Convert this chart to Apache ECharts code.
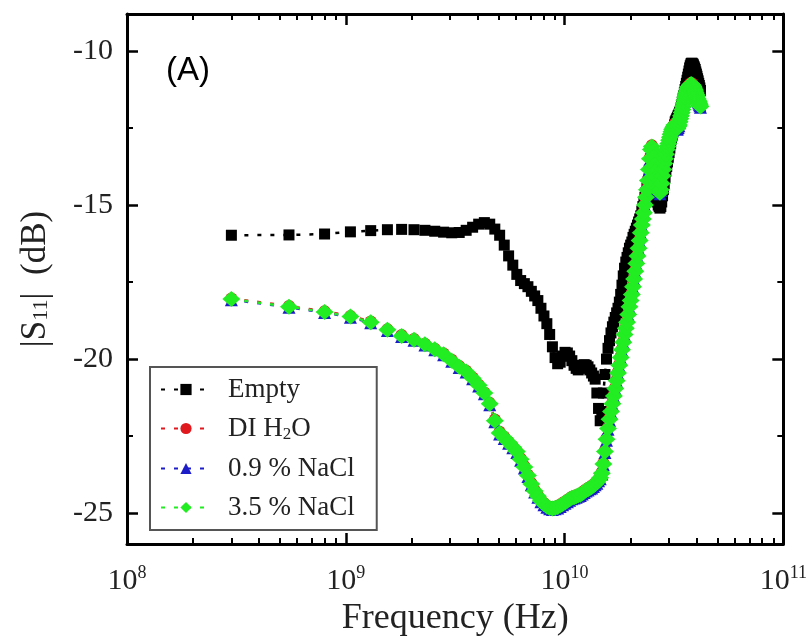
<!DOCTYPE html>
<html>
<head>
<meta charset="utf-8">
<script src="https://cdn.jsdelivr.net/npm/echarts@6/dist/echarts.min.js"></script>
<style>html,body{margin:0;padding:0;background:#fff}#main{width:810px;height:642px}</style>
</head>
<body>
<div id="main"></div>
<script>
// Frequency sweep points (GHz)
const freqGHz = [
0.3,0.55,0.8,1.05,1.3,1.55,1.8,2.05,2.3,2.55,
2.8,3.05,3.3,3.55,3.8,4.05,4.3,4.55,4.8,5.05,
5.3,5.55,5.8,6.05,6.3,6.55,6.8,7.05,7.3,7.55,
7.8,8.05,8.3,8.55,8.8,9.05,9.3,9.55,9.8,10.05,
10.3,10.55,10.8,11.05,11.3,11.55,11.8,12.05,12.3,12.55,
12.8,13.05,13.3,13.55,13.8,14.05,14.3,14.55,14.8,15.05,
15.3,15.55,15.8,16.05,16.3,16.55,16.8,17.05,17.3,17.55,
17.8,18.05,18.3,18.55,18.8,19.05,19.3,19.55,19.8,20.05,
20.3,20.55,20.8,21.05,21.3,21.55,21.8,22.05,22.3,22.55,
22.8,23.05,23.3,23.55,23.8,24.05,24.3,24.55,24.8,25.05,
25.3,25.55,25.8,26.05,26.3,26.55,26.8,27.05,27.3,27.55,
27.8,28.05,28.3,28.55,28.8,29.05,29.3,29.55,29.8,30.05,
30.3,30.55,30.8,31.05,31.3,31.55,31.8,32.05,32.3,32.55,
32.8,33.05,33.3,33.55,33.8,34.05,34.3,34.55,34.8,35.05,
35.3,35.55,35.8,36.05,36.3,36.55,36.8,37.05,37.3,37.55,
37.8,38.05,38.3,38.55,38.8,39.05,39.3,39.55,39.8,40.05,
40.3,40.55,40.8,41.05,41.3,41.55,41.8
];

// |S11| (dB) — Empty
const emptyDB = [
-15.98,-15.97,-15.94,-15.87,-15.83,-15.80,-15.79,-15.80,-15.82,-15.85,
-15.88,-15.90,-15.89,-15.82,-15.72,-15.62,-15.57,-15.62,-15.78,-15.98,
-16.30,-16.65,-16.95,-17.25,-17.45,-17.55,-17.65,-17.80,-17.95,-18.10,
-18.35,-18.60,-18.85,-19.20,-19.60,-19.95,-20.15,-20.10,-19.90,-19.78,
-19.80,-19.90,-20.05,-20.20,-20.30,-20.35,-20.30,-20.22,-20.18,-20.20,
-20.25,-20.35,-20.45,-20.55,-20.65,-21.10,-21.60,-22.00,-21.70,-21.10,
-20.50,-20.00,-19.65,-19.40,-19.15,-18.95,-18.80,-18.65,-18.50,-18.35,
-18.15,-17.90,-17.60,-17.30,-17.05,-16.85,-16.70,-16.55,-16.40,-16.30,
-16.20,-16.05,-15.95,-15.85,-15.75,-15.65,-15.55,-15.45,-15.35,-15.20,
-15.05,-14.90,-14.75,-14.60,-14.45,-14.30,-14.15,-13.95,-13.80,-13.85,
-14.00,-14.20,-14.40,-14.60,-14.75,-14.90,-15.00,-15.05,-15.10,-15.05,
-14.90,-14.70,-14.50,-14.30,-14.10,-13.90,-13.75,-13.60,-13.45,-13.30,
-13.15,-13.00,-12.85,-12.75,-12.60,-12.50,-12.40,-12.30,-12.25,-12.20,
-12.15,-12.10,-12.05,-12.00,-11.95,-11.85,-11.75,-11.65,-11.55,-11.45,
-11.35,-11.25,-11.15,-11.05,-10.95,-10.85,-10.75,-10.65,-10.55,-10.48,
-10.42,-10.40,-10.40,-10.42,-10.45,-10.50,-10.55,-10.60,-10.68,-10.75,
-10.82,-10.90,-10.97,-11.05,-11.12,-11.20,-11.28
];

// |S11| (dB) — DI H2O
const diH2oDB = [
-18.03,-18.28,-18.45,-18.60,-18.78,-19.03,-19.22,-19.35,-19.50,-19.66,
-19.82,-20.02,-20.22,-20.38,-20.60,-20.83,-21.08,-21.42,-21.96,-22.36,
-22.52,-22.68,-22.83,-22.98,-23.22,-23.47,-23.75,-24.02,-24.25,-24.42,
-24.57,-24.67,-24.75,-24.80,-24.82,-24.80,-24.77,-24.72,-24.67,-24.62,
-24.57,-24.52,-24.47,-24.45,-24.42,-24.39,-24.37,-24.32,-24.27,-24.22,
-24.19,-24.15,-24.12,-24.07,-24.02,-23.97,-23.89,-23.82,-23.66,-23.36,
-22.96,-22.56,-22.21,-21.91,-21.66,-21.41,-21.16,-20.91,-20.66,-20.41,
-20.16,-19.91,-19.66,-19.41,-19.16,-18.96,-18.76,-18.51,-18.26,-18.06,
-17.86,-17.61,-17.36,-17.11,-16.86,-16.61,-16.36,-16.11,-15.86,-15.61,
-15.41,-15.21,-14.96,-14.71,-14.46,-14.16,-13.81,-13.46,-13.16,-13.06,
-13.21,-13.41,-13.66,-13.86,-14.06,-14.26,-14.41,-14.51,-14.56,-14.46,
-14.26,-14.01,-13.81,-13.61,-13.46,-13.31,-13.16,-13.06,-12.96,-12.86,
-12.76,-12.66,-12.58,-12.51,-12.46,-12.41,-12.36,-12.36,-12.41,-12.46,
-12.46,-12.41,-12.36,-12.26,-12.16,-12.06,-11.96,-11.86,-11.76,-11.66,
-11.56,-11.46,-11.38,-11.31,-11.24,-11.18,-11.14,-11.11,-11.08,-11.06,
-11.04,-11.04,-11.06,-11.08,-11.11,-11.16,-11.21,-11.26,-11.32,-11.38,
-11.44,-11.51,-11.56,-11.61,-11.66,-11.71,-11.76
];

// |S11| (dB) — 0.9 % NaCl
const nacl09DB = [
-18.07,-18.32,-18.49,-18.64,-18.82,-19.07,-19.27,-19.39,-19.54,-19.70,
-19.86,-20.07,-20.27,-20.42,-20.64,-20.87,-21.12,-21.48,-22.03,-22.43,
-22.58,-22.73,-22.88,-23.03,-23.28,-23.53,-23.81,-24.08,-24.31,-24.48,
-24.63,-24.73,-24.81,-24.86,-24.88,-24.86,-24.83,-24.78,-24.73,-24.68,
-24.63,-24.58,-24.53,-24.51,-24.48,-24.45,-24.43,-24.38,-24.33,-24.28,
-24.25,-24.21,-24.18,-24.13,-24.08,-24.03,-23.95,-23.88,-23.73,-23.43,
-23.03,-22.63,-22.28,-21.98,-21.73,-21.48,-21.23,-20.98,-20.73,-20.48,
-20.23,-19.98,-19.73,-19.48,-19.23,-19.03,-18.83,-18.58,-18.33,-18.13,
-17.93,-17.68,-17.43,-17.18,-16.93,-16.68,-16.43,-16.18,-15.93,-15.68,
-15.48,-15.28,-15.03,-14.78,-14.53,-14.23,-13.88,-13.53,-13.23,-13.13,
-13.28,-13.48,-13.73,-13.93,-14.13,-14.33,-14.48,-14.58,-14.63,-14.53,
-14.33,-14.08,-13.88,-13.68,-13.53,-13.38,-13.23,-13.13,-13.03,-12.93,
-12.83,-12.73,-12.65,-12.58,-12.53,-12.48,-12.43,-12.43,-12.48,-12.53,
-12.53,-12.48,-12.43,-12.33,-12.23,-12.13,-12.03,-11.93,-11.83,-11.73,
-11.63,-11.53,-11.45,-11.38,-11.31,-11.25,-11.21,-11.18,-11.15,-11.13,
-11.11,-11.11,-11.13,-11.15,-11.18,-11.23,-11.28,-11.33,-11.39,-11.45,
-11.51,-11.58,-11.63,-11.68,-11.73,-11.78,-11.83
];

// |S11| (dB) — 3.5 % NaCl
const nacl35DB = [
-18.05,-18.30,-18.47,-18.62,-18.80,-19.05,-19.25,-19.37,-19.52,-19.68,
-19.84,-20.05,-20.25,-20.40,-20.62,-20.85,-21.10,-21.45,-22.00,-22.40,
-22.55,-22.70,-22.85,-23.00,-23.25,-23.50,-23.78,-24.05,-24.28,-24.45,
-24.60,-24.70,-24.78,-24.83,-24.85,-24.83,-24.80,-24.75,-24.70,-24.65,
-24.60,-24.55,-24.50,-24.48,-24.45,-24.42,-24.40,-24.35,-24.30,-24.25,
-24.22,-24.18,-24.15,-24.10,-24.05,-24.00,-23.92,-23.85,-23.70,-23.40,
-23.00,-22.60,-22.25,-21.95,-21.70,-21.45,-21.20,-20.95,-20.70,-20.45,
-20.20,-19.95,-19.70,-19.45,-19.20,-19.00,-18.80,-18.55,-18.30,-18.10,
-17.90,-17.65,-17.40,-17.15,-16.90,-16.65,-16.40,-16.15,-15.90,-15.65,
-15.45,-15.25,-15.00,-14.75,-14.50,-14.20,-13.85,-13.50,-13.20,-13.10,
-13.25,-13.45,-13.70,-13.90,-14.10,-14.30,-14.45,-14.55,-14.60,-14.50,
-14.30,-14.05,-13.85,-13.65,-13.50,-13.35,-13.20,-13.10,-13.00,-12.90,
-12.80,-12.70,-12.62,-12.55,-12.50,-12.45,-12.40,-12.40,-12.45,-12.50,
-12.50,-12.45,-12.40,-12.30,-12.20,-12.10,-12.00,-11.90,-11.80,-11.70,
-11.60,-11.50,-11.42,-11.35,-11.28,-11.22,-11.18,-11.15,-11.12,-11.10,
-11.08,-11.08,-11.10,-11.12,-11.15,-11.20,-11.25,-11.30,-11.36,-11.42,
-11.48,-11.55,-11.60,-11.65,-11.70,-11.75,-11.80
];

const seriesNames = ['Empty', 'DI H2O', '0.9 % NaCl', '3.5 % NaCl'];
const yMajorTicks = [-25, -20, -15, -10];
const yMinorTicks = [-22.5, -17.5, -12.5];
const xDecades = [8, 9, 10];
const xMinorMultipliers = [2, 3, 4, 5, 6, 7, 8, 9];
const panelLabel = '(A)';

const serif = 'Liberation Serif';
const chart = echarts.init(document.getElementById('main'), null, {renderer: 'canvas'});

function toPairs(vals) {
  return freqGHz.map((f, i) => [f * 1e9, vals[i]]);
}

// minor log-tick positions, expressed as exponents on a helper value axis
const xMinorExp = [];
xDecades.forEach(d => xMinorMultipliers.forEach(m => xMinorExp.push(d + Math.log10(m))));

const lineBase = {type: 'line', showSymbol: true, showAllSymbol: true, animation: false, silent: true,
  xAxisIndex: 0, yAxisIndex: 0};

function mkSeries(name, vals, symbol, size, color) {
  return Object.assign({}, lineBase, {
    name: name, data: toPairs(vals), symbol: symbol, symbolSize: size,
    itemStyle: {color: color},
    lineStyle: {color: color, width: 2.5, type: [4, 9]}
  });
}

const frameLine = {show: true, onZero: false, lineStyle: {color: '#000', width: 3}};
const yRange = {min: -26, max: -8.8};
const majorTick = {show: true, inside: true, length: 11, lineStyle: {color: '#000', width: 2.5}};
const minorTickStyle = {show: true, inside: true, length: 6, lineStyle: {color: '#000', width: 2}};

const option = {
  backgroundColor: '#fff',
  animation: false,
  grid: {left: 127, right: 25, top: 14, bottom: 97, containLabel: false},
  graphic: [{
    type: 'text', left: 166, top: 54,
    style: {text: panelLabel, font: '33px "Liberation Sans"', fill: '#000'}
  }],
  legend: {
    orient: 'vertical', left: 150, top: 367,
    data: seriesNames, selectedMode: false,
    itemWidth: 50, itemHeight: 14, itemGap: 12,
    padding: [9, 22, 9, 10],
    borderColor: '#555', borderWidth: 2, backgroundColor: '#fff',
    formatter: function (n) { return n === 'DI H2O' ? 'DI H{sub|2}O' : n; },
    textStyle: {
      fontFamily: serif, fontSize: 27, color: '#222', padding: [0, 0, 0, 12],
      rich: {sub: {fontFamily: serif, fontSize: 17, color: '#222', padding: [12, 0, 0, 0]}}
    }
  },
  xAxis: [
    {
      type: 'log', logBase: 10, min: 1e8, max: 1e11, position: 'bottom',
      axisLine: frameLine, axisTick: majorTick,
      splitLine: {show: false},
      axisLabel: {
        margin: 20, fontFamily: serif, fontSize: 30, color: '#222',
        formatter: function (v) { return '10{sup|' + Math.round(Math.log10(v)) + '}'; },
        rich: {sup: {fontFamily: serif, fontSize: 18, color: '#222', padding: [0, 0, 16, 0]}}
      },
      name: 'Frequency (Hz)', nameLocation: 'middle', nameGap: 57,
      nameTextStyle: {fontFamily: serif, fontSize: 36, color: '#222'}
    },
    {
      type: 'log', logBase: 10, min: 1e8, max: 1e11, position: 'top',
      axisLine: frameLine, axisTick: majorTick,
      splitLine: {show: false}, axisLabel: {show: false}
    },
    {
      type: 'value', min: 8, max: 11, position: 'bottom',
      axisLine: {show: false},
      axisTick: Object.assign({customValues: xMinorExp}, minorTickStyle),
      axisLabel: {show: false}, splitLine: {show: false}
    },
    {
      type: 'value', min: 8, max: 11, position: 'top',
      axisLine: {show: false},
      axisTick: Object.assign({customValues: xMinorExp}, minorTickStyle),
      axisLabel: {show: false}, splitLine: {show: false}
    }
  ],
  yAxis: [
    Object.assign({type: 'value', position: 'left'}, yRange, {
      axisLine: frameLine,
      axisTick: Object.assign({customValues: yMajorTicks}, majorTick),
      axisLabel: {customValues: yMajorTicks, margin: 14, fontFamily: serif, fontSize: 30, color: '#222'},
      splitLine: {show: false},
      name: '|S{sub|11}|  (dB)', nameLocation: 'middle', nameGap: 74, nameRotate: 90,
      nameTextStyle: {fontFamily: serif, fontSize: 35, color: '#222',
        rich: {sub: {fontFamily: serif, fontSize: 22, color: '#222', padding: [12, 0, 0, 0]}}}
    }),
    Object.assign({type: 'value', position: 'right'}, yRange, {
      axisLine: frameLine,
      axisTick: Object.assign({customValues: yMajorTicks}, majorTick),
      axisLabel: {show: false}, splitLine: {show: false}
    }),
    Object.assign({type: 'value', position: 'left'}, yRange, {
      axisLine: {show: false},
      axisTick: Object.assign({customValues: yMinorTicks}, minorTickStyle),
      axisLabel: {show: false}, splitLine: {show: false}
    }),
    Object.assign({type: 'value', position: 'right'}, yRange, {
      axisLine: {show: false},
      axisTick: Object.assign({customValues: yMinorTicks}, minorTickStyle),
      axisLabel: {show: false}, splitLine: {show: false}
    })
  ],
  series: [
    mkSeries(seriesNames[0], emptyDB, 'rect', 11, '#000000'),
    mkSeries(seriesNames[1], diH2oDB, 'circle', 12, '#e0191e'),
    mkSeries(seriesNames[2], nacl09DB, 'triangle', 13, '#1c1cc8'),
    mkSeries(seriesNames[3], nacl35DB, 'diamond', [18, 16], '#22ec22')
  ]
};
chart.setOption(option);
</script>
</body>
</html>
